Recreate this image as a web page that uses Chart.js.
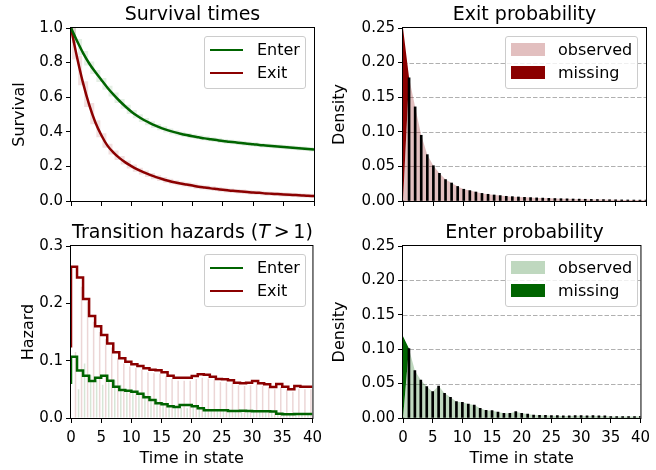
<!DOCTYPE html>
<html>
<head>
<meta charset="utf-8">
<script src="https://cdn.jsdelivr.net/npm/chart.js@4.4.1/dist/chart.umd.min.js"></script>
<style>
  body { margin: 0; background: #fff; }
  #fig { position: relative; width: 656px; height: 470px; overflow: hidden; font-family: "DejaVu Sans", sans-serif; color: #000; }
  #fig canvas { position: absolute; }
  .title { position: absolute; font-size: 19px; line-height: 19px; white-space: nowrap; transform: translateX(-50%); }
  .title .rel { margin: 0 0.2em; }
  .legend { position: absolute; box-sizing: border-box; border: 1px solid #cccccc; border-radius: 3px; background: rgba(255,255,255,0.8); }
  .legend .line { position: absolute; left: 5px; width: 33px; height: 0; border-top: 2.5px solid; }
  .legend .patch { position: absolute; left: 5px; width: 34px; height: 13px; }
  .legend .lab { position: absolute; left: 52px; font-size: 16px; line-height: 16px; white-space: nowrap; }
</style>
</head>
<body>
<div id="fig">
  <canvas id="surv" width="328" height="225" style="left:0;top:0"></canvas>
  <canvas id="exitp" width="328" height="225" style="left:328px;top:0"></canvas>
  <canvas id="haz" width="328" height="245" style="left:0;top:225px"></canvas>
  <canvas id="enterp" width="328" height="245" style="left:328px;top:225px"></canvas>

  <div class="title" style="left:192.5px;top:4px">Survival times</div>
  <div class="title" style="left:524.5px;top:4px">Exit probability</div>
  <div class="title" style="left:192.5px;top:222px">Transition hazards (<i>T</i><span class="rel">&gt;</span>1)</div>
  <div class="title" style="left:524.5px;top:222px">Enter probability</div>

  <div class="legend" style="left:204px;top:36px;width:102px;height:53px">
    <div class="line" style="top:12px;border-color:#006400"></div><div class="lab" style="top:5px">Enter</div>
    <div class="line" style="top:35px;border-color:#8b0000"></div><div class="lab" style="top:28px">Exit</div>
  </div>
  <div class="legend" style="left:505px;top:36px;width:133px;height:53px">
    <div class="patch" style="top:6px;background:rgba(139,0,0,0.25)"></div><div class="lab" style="top:5px">observed</div>
    <div class="patch" style="top:29px;background:#8b0000"></div><div class="lab" style="top:28px">missing</div>
  </div>
  <div class="legend" style="left:204px;top:254px;width:102px;height:53px">
    <div class="line" style="top:12px;border-color:#006400"></div><div class="lab" style="top:5px">Enter</div>
    <div class="line" style="top:35px;border-color:#8b0000"></div><div class="lab" style="top:28px">Exit</div>
  </div>
  <div class="legend" style="left:505px;top:254px;width:133px;height:53px">
    <div class="patch" style="top:6px;background:rgba(0,100,0,0.25)"></div><div class="lab" style="top:5px">observed</div>
    <div class="patch" style="top:29px;background:#006400"></div><div class="lab" style="top:28px">missing</div>
  </div>
</div>

<script>
// time in state, 0..40
const times = Array.from({ length: 41 }, (_, i) => i);
const timeTicks = [0, 5, 10, 15, 20, 25, 30, 35, 40];
const survTicks = [0, 0.2, 0.4, 0.6, 0.8, 1.0];
const densTicks = [0, 0.05, 0.10, 0.15, 0.20, 0.25];
const hazTicks = [0, 0.1, 0.2, 0.3];

// survival curves
const survEnter = [1.0, 0.925, 0.855, 0.795, 0.745, 0.70, 0.655, 0.615, 0.578, 0.545, 0.515,
  0.49, 0.468, 0.45, 0.434, 0.42, 0.408, 0.398, 0.389, 0.381, 0.374,
  0.368, 0.362, 0.357, 0.352, 0.347, 0.343, 0.339, 0.335, 0.331, 0.328,
  0.324, 0.321, 0.318, 0.315, 0.312, 0.309, 0.306, 0.303, 0.30, 0.297];
const survExit = [1.0, 0.83, 0.68, 0.555, 0.455, 0.38, 0.32, 0.28, 0.248, 0.222, 0.20,
  0.181, 0.165, 0.151, 0.138, 0.127, 0.117, 0.108, 0.101, 0.095, 0.089,
  0.083, 0.078, 0.073, 0.069, 0.065, 0.061, 0.058, 0.055, 0.052, 0.049,
  0.047, 0.044, 0.042, 0.040, 0.038, 0.036, 0.034, 0.032, 0.030, 0.029];

// exit / enter probability (density)
const exitObserved = [0, 0.178, 0.136, 0.095, 0.067, 0.051, 0.040, 0.031, 0.026, 0.021, 0.017,
  0.015, 0.013, 0.011, 0.0097, 0.0087, 0.0078, 0.0068, 0.0063, 0.0058, 0.0053,
  0.0049, 0.0045, 0.0042, 0.0039, 0.0036, 0.0033, 0.0031, 0.0029, 0.0027, 0.0025,
  0.0023, 0.0021, 0.0020, 0.0018, 0.0017, 0.0016, 0.0015, 0.0014, 0.0013, 0.0012];
const exitMissing = [0.25, 0, 0, 0, 0, 0, 0, 0, 0, 0, 0, 0, 0, 0, 0, 0, 0, 0, 0, 0, 0,
  0, 0, 0, 0, 0, 0, 0, 0, 0, 0, 0, 0, 0, 0, 0, 0, 0, 0, 0, 0];
const enterObserved = [0, 0.101, 0.0688, 0.0552, 0.0455, 0.0383, 0.0465, 0.036, 0.030, 0.0237, 0.0228,
  0.0203, 0.0189, 0.014, 0.011, 0.0107, 0.0087, 0.0068, 0.0068, 0.0092, 0.0068,
  0.0058, 0.0044, 0.004, 0.004, 0.0034, 0.0034, 0.003, 0.003, 0.0034, 0.0034,
  0.003, 0.0034, 0.003, 0.003, 0.002, 0.002, 0.002, 0.002, 0.002, 0.0024];
const enterMissing = [0.119, 0, 0, 0, 0, 0, 0, 0, 0, 0, 0, 0, 0, 0, 0, 0, 0, 0, 0, 0, 0,
  0, 0, 0, 0, 0, 0, 0, 0, 0, 0, 0, 0, 0, 0, 0, 0, 0, 0, 0, 0];

// transition hazards (step level on [t, t+1])
const hazExit = [0.123, 0.264, 0.245, 0.2076, 0.178, 0.160, 0.1448, 0.130, 0.1145, 0.104, 0.098,
  0.0936, 0.0907, 0.0866, 0.0843, 0.0831, 0.0797, 0.0738, 0.0703, 0.0703, 0.0703,
  0.0733, 0.0762, 0.0756, 0.072, 0.068, 0.0674, 0.0657, 0.0616, 0.0605, 0.0616,
  0.0645, 0.0605, 0.0587, 0.054, 0.0593, 0.0547, 0.050, 0.0558, 0.0547, 0.0547];
const hazEnter = [0.0593, 0.107, 0.083, 0.0738, 0.0645, 0.0703, 0.0738, 0.065, 0.0547, 0.0488, 0.0477,
  0.046, 0.0424, 0.036, 0.0314, 0.0256, 0.0238, 0.0203, 0.0192, 0.0227, 0.0227,
  0.0203, 0.0169, 0.0134, 0.0134, 0.0134, 0.0134, 0.0122, 0.0122, 0.0128, 0.0122,
  0.0118, 0.0116, 0.0116, 0.0113, 0.0076, 0.0064, 0.0064, 0.007, 0.007, 0.007];
// faint raw hazards
const hazExitRaw = [0, 0.115, 0.229, 0.203, 0.168, 0.150, 0.138, 0.123, 0.105, 0.095, 0.090,
  0.087, 0.084, 0.080, 0.078, 0.077, 0.073, 0.068, 0.065, 0.065, 0.065,
  0.068, 0.070, 0.069, 0.066, 0.063, 0.062, 0.060, 0.057, 0.056, 0.057,
  0.059, 0.056, 0.054, 0.050, 0.054, 0.050, 0.046, 0.051, 0.050, 0.050];
const hazEnterRaw = [0, 0.05, 0.095, 0.075, 0.066, 0.058, 0.064, 0.066, 0.058, 0.049, 0.044,
  0.043, 0.041, 0.038, 0.032, 0.028, 0.023, 0.021, 0.018, 0.017, 0.020,
  0.020, 0.018, 0.015, 0.012, 0.012, 0.012, 0.012, 0.011, 0.011, 0.011,
  0.011, 0.010, 0.010, 0.010, 0.010, 0.007, 0.006, 0.006, 0.006, 0.006];

const RED = '#8b0000';
const GREEN = '#006400';

Chart.defaults.font.family = '"DejaVu Sans", sans-serif';
Chart.defaults.font.size = 15;
Chart.defaults.color = '#000';

const pts = arr => arr.map((v, i) => ({ x: times[i], y: v }));

// spines + optional dashed horizontal grid
const framePlugin = {
  id: 'frame',
  beforeDatasetsDraw(chart, args, opts) {
    if (!opts.grid) return;
    const { ctx, chartArea: a, scales: { y } } = chart;
    ctx.save();
    ctx.strokeStyle = '#b0b0b0';
    ctx.lineWidth = 1;
    ctx.setLineDash([4.5, 2]);
    opts.grid.forEach(v => {
      const py = Math.round(y.getPixelForValue(v)) + 0.5;
      ctx.beginPath();
      ctx.moveTo(a.left, py);
      ctx.lineTo(a.right, py);
      ctx.stroke();
    });
    ctx.restore();
  },
  afterDraw(chart) {
    const { ctx, chartArea: a } = chart;
    ctx.save();
    ctx.strokeStyle = '#000';
    ctx.lineWidth = 1;
    ctx.strokeRect(a.left - 0.5, a.top - 0.5, a.right - a.left + 1, a.bottom - a.top + 1);
    ctx.restore();
  }
};

function timeAxis(withLabels) {
  return {
    type: 'linear', min: 0, max: 40, offset: false,
    afterBuildTicks: s => { s.ticks = timeTicks.map(v => ({ value: v })); },
    afterFit: s => { s.height = withLabels ? 52 : 24; },
    grid: { drawOnChartArea: false, tickLength: 5, color: '#000', offset: false },
    border: { display: false },
    ticks: { display: withLabels, padding: 6, maxRotation: 0, autoSkip: false },
    title: { display: withLabels, text: 'Time in state', font: { size: 16 }, padding: { top: 0, bottom: 2 } }
  };
}

function valueAxis(tickVals, digits, label, width, titlePad, stacked) {
  return {
    type: 'linear', stacked: !!stacked,
    min: tickVals[0], max: tickVals[tickVals.length - 1],
    afterBuildTicks: s => { s.ticks = tickVals.map(v => ({ value: v })); },
    afterFit: s => { s.width = width; },
    grid: { drawOnChartArea: false, tickLength: 5, color: '#000' },
    border: { display: false },
    ticks: { padding: 3, callback: v => v.toFixed(digits) },
    title: { display: true, text: label, font: { size: 16 }, padding: { top: titlePad, bottom: 0 } }
  };
}

function baseOptions(padTop, padRight, xAxis, yAxis, grid) {
  return {
    responsive: false,
    animation: false,
    layout: { padding: { top: padTop, right: padRight, left: 0, bottom: 0 } },
    plugins: { legend: { display: false }, tooltip: { enabled: false }, frame: { grid: grid } },
    scales: { x: xAxis, y: yAxis }
  };
}

// Survival times
new Chart(document.getElementById('surv'), {
  type: 'line',
  data: {
    datasets: [
      { data: pts(survEnter), borderColor: GREEN, borderWidth: 2.5, pointRadius: 0, cubicInterpolationMode: 'monotone' },
      { data: pts(survExit), borderColor: RED, borderWidth: 2.5, pointRadius: 0, cubicInterpolationMode: 'monotone' },
      { data: pts(survEnter), borderColor: 'rgba(0,100,0,0.1)', borderWidth: 4, pointRadius: 0, stepped: 'middle' },
      { data: pts(survExit), borderColor: 'rgba(139,0,0,0.12)', borderWidth: 4, pointRadius: 0, stepped: 'middle' }
    ]
  },
  options: baseOptions(28, 14, timeAxis(false), valueAxis(survTicks, 1, 'Survival', 71, 10.5), null),
  plugins: [framePlugin]
});

function densityChart(id, observed, missing, dark, light, withLabels, padTop) {
  return new Chart(document.getElementById(id), {
    type: 'line',
    data: {
      datasets: [
        { type: 'bar', data: pts(observed), backgroundColor: '#000', barThickness: 2, borderWidth: 0 },
        { data: pts(observed), borderWidth: 0, pointRadius: 0, backgroundColor: light, fill: 'origin' },
        { data: pts(missing), borderWidth: 0, pointRadius: 0, backgroundColor: dark, fill: '-1' }
      ]
    },
    options: baseOptions(padTop, 10, timeAxis(withLabels),
      valueAxis(densTicks, 2, 'Density', 75, 2.5, true), [0.05, 0.10, 0.15, 0.20]),
    plugins: [framePlugin]
  });
}

densityChart('exitp', exitObserved, exitMissing, RED, 'rgba(139,0,0,0.25)', false, 28);
densityChart('enterp', enterObserved, enterMissing, GREEN, 'rgba(0,100,0,0.25)', true, 21);

// Transition hazards
new Chart(document.getElementById('haz'), {
  type: 'line',
  data: {
    datasets: [
      { data: pts(hazExit), borderColor: RED, borderWidth: 2.5, pointRadius: 0, stepped: 'after' },
      { data: pts(hazEnter), borderColor: GREEN, borderWidth: 2.5, pointRadius: 0, stepped: 'after' },
      { type: 'bar', data: pts(hazExitRaw), backgroundColor: 'rgba(139,0,0,0.16)', categoryPercentage: 1, barPercentage: 0.5, borderWidth: 0 },
      { type: 'bar', data: pts(hazEnterRaw), backgroundColor: 'rgba(0,100,0,0.16)', categoryPercentage: 1, barPercentage: 0.5, borderWidth: 0 }
    ]
  },
  options: baseOptions(21, 14, timeAxis(true), valueAxis(hazTicks, 1, 'Hazard', 71, 19), null),
  plugins: [framePlugin]
});
</script>
</body>
</html>
